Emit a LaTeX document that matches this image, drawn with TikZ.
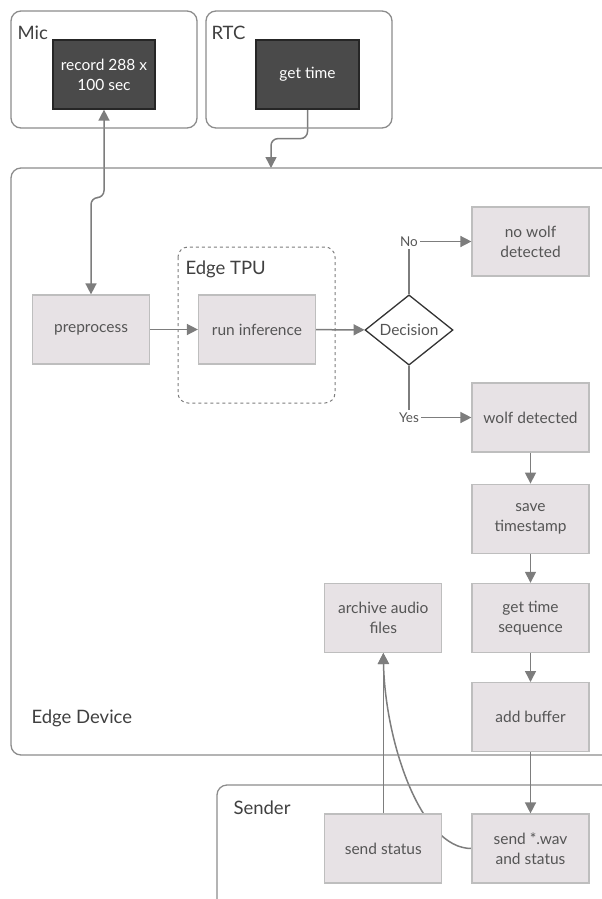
\documentclass[tikz,border=0pt]{standalone}
\usepackage{fontspec}
\setmainfont{Lato}
\usetikzlibrary{positioning, arrows.meta, shapes.geometric, backgrounds}
\definecolor{boxfill}{RGB}{231,226,229}
\definecolor{boxline}{RGB}{190,190,190}
\definecolor{darkfill}{RGB}{74,74,74}
\definecolor{flowline}{RGB}{125,125,125}
\definecolor{frameline}{RGB}{140,140,140}
\definecolor{txt}{RGB}{85,85,85}
\tikzset{
x=1pt, y=-1pt, % pixel-like units, y going down
>={Triangle[length=11pt,width=11pt]}, % filled arrow heads
flow/.style={draw=flowline, line width=1.5pt}, % connectors
stepbox/.style={draw=boxline, fill=boxfill, line width=1.2pt, text=txt, minimum width=117pt, minimum height=69pt, align=center, font=\fontsize{15.5}{20}\selectfont}, % light process boxes
hwbox/.style={stepbox, draw=black!85, fill=darkfill, text=white, minimum width=102pt}, % dark hardware boxes
frame/.style={draw=frameline, line width=1.3pt, rounded corners=10pt}, % containers
framelabel/.style={anchor=west, text=black!75, font=\fontsize{18.5}{22}\selectfont}, % container titles
}

\begin{document}
\begin{tikzpicture}
    \useasboundingbox (0,0) rectangle (602,899);
    \clip (0,0) rectangle (602,899);
    % containers
    \draw[frame] (11,11) rectangle (197,128);
    \draw[frame] (206,11) rectangle (392,128);
    \draw[frame] (11,168) rectangle (612,755);
    \draw[frame, dashed, line width=1pt, draw=flowline] (178,247) rectangle (335,403);
    \draw[frame] (217,785) rectangle (612,915);
    \node[framelabel] (miclab) at (14,33) {Mic};
    \node[framelabel] (rtclab) at (208,33) {RTC};
    \node[framelabel] (tpulab) at (182,269) {Edge TPU};
    \node[framelabel] (edgelab) at (28,718) {Edge Device};
    \node[framelabel] (senderlab) at (230,808) {Sender};
    \coordinate (rtcin) at (271,168);
    % steps
    \node[hwbox] (rec) at (104,74.5) {record 288 x\\100 sec};
    \node[hwbox, minimum width=103pt] (time) at (307.5,74.5) {get time};
    \node[stepbox] (pre) at (91,329.5) {preprocess};
    \node[stepbox] (inf) at (257,329.5) {run inference};
    \node[draw=black!80, line width=1.3pt, diamond, minimum width=88pt, minimum height=64pt, inner sep=0pt, text=txt, font=\fontsize{15.5}{18}\selectfont] (dec) at (409,330) {Decision};
    \node[stepbox] (nowolf) at (530.5,241.5) {no wolf\\detected};
    \node[stepbox] (wolf) at (530.5,417.5) {wolf detected};
    \node[stepbox, below=31pt of wolf] (save) {save\\timestamp};
    \node[stepbox, below=29pt of save] (seq) {get time\\sequence};
    \node[stepbox, below=29pt of seq] (buf) {add buffer};
    \node[stepbox, left=29pt of seq] (arch) {archive audio\\files};
    \node[stepbox] (wav) at (530.5,848.5) {send *.wav\\and status};
    \node[text=txt, font=\fontsize{13.5}{15}\selectfont, inner sep=2pt] (no) at (dec.north |- nowolf.west) {No};
    \node[text=txt, font=\fontsize{13.5}{15}\selectfont, inner sep=2pt] (yes) at (dec.south |- wolf.west) {Yes};
    \begin{scope}[on background layer]
    \draw[flow, <->, rounded corners=7pt] (rec.south) -- ++(0,88) -| (pre.north);
    \draw[flow, ->, rounded corners=7pt] (time.south) -- ++(0,29) -| (rtcin);
    \draw[flow, ->] (wav.west) .. controls (420,848.5) and (385,740) .. (arch.south);
    \end{scope}
    \node[stepbox] (stat) at (arch |- wav) {send status};
    \draw[flow, ->] (pre) -- (inf);
    \draw[flow, ->] (inf) -- (dec);
    \draw[flow] (dec.north) -- (no.south);
    \draw[flow, ->] (no.east) -- (nowolf.west);
    \draw[flow] (dec.south) -- (yes.north);
    \draw[flow, ->] (yes.east) -- (wolf.west);
    \draw[flow, ->] (wolf) -- (save);
    \draw[flow, ->] (save) -- (seq);
    \draw[flow, ->] (seq) -- (buf);
    \draw[flow, ->] (buf) -- (wav);
    \draw[flow, ->] (stat) -- (arch);
  \end{tikzpicture}
\end{document}
